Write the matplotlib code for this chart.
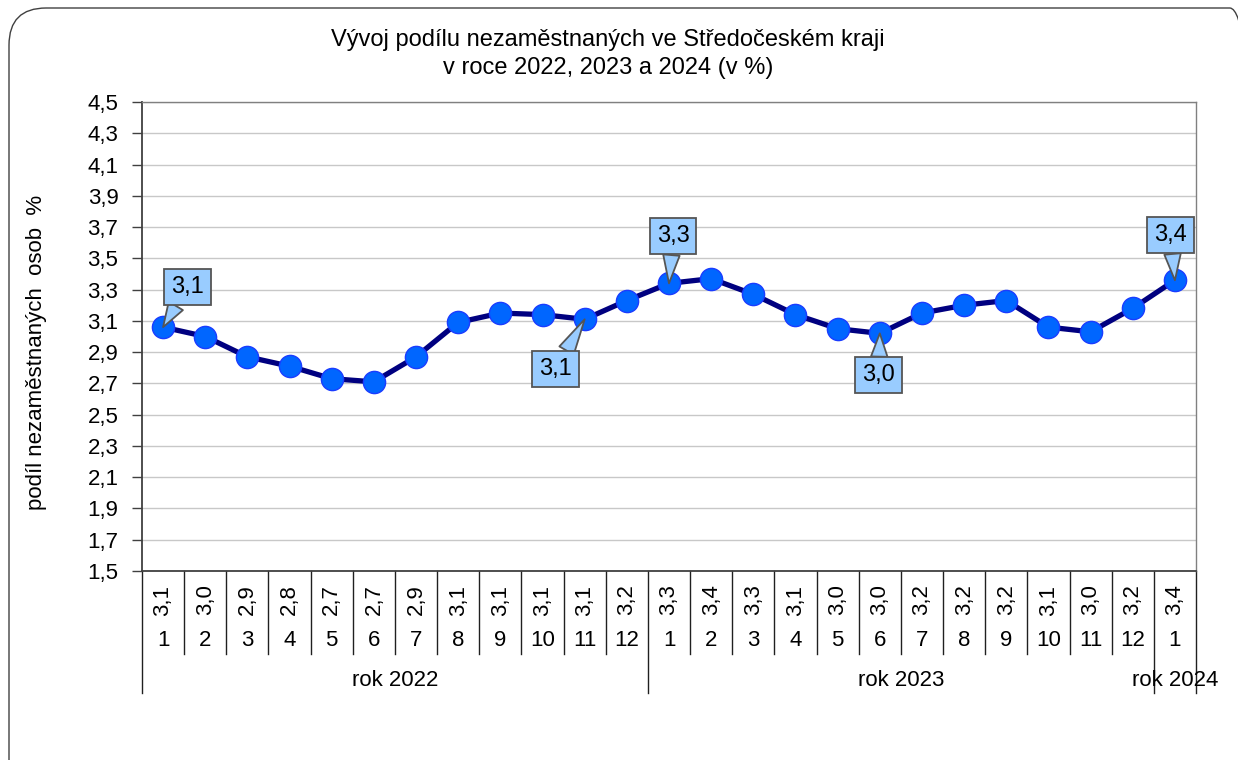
import matplotlib
matplotlib.use("Agg")
import matplotlib.pyplot as plt
from matplotlib.patches import FancyBboxPatch
from matplotlib.transforms import blended_transform_factory
from matplotlib.lines import Line2D

plt.rcParams['font.family'] = ['Liberation Sans', 'DejaVu Sans']

# ---- data ----
months = ["1", "2", "3", "4", "5", "6", "7", "8", "9", "10", "11", "12",
          "1", "2", "3", "4", "5", "6", "7", "8", "9", "10", "11", "12",
          "1"]
years = ["rok 2022", "rok 2023", "rok 2024"]
year_counts = [12, 12, 1]
values = [3.06, 3.00, 2.87, 2.81, 2.73, 2.71, 2.87, 3.09, 3.15, 3.14, 3.11, 3.23,
          3.34, 3.37, 3.27, 3.14, 3.05, 3.02, 3.15, 3.20, 3.23, 3.06, 3.03, 3.18,
          3.36]
table_labels = ["3,1", "3,0", "2,9", "2,8", "2,7", "2,7", "2,9", "3,1", "3,1", "3,1", "3,1", "3,2",
                "3,3", "3,4", "3,3", "3,1", "3,0", "3,0", "3,2", "3,2", "3,2", "3,1", "3,0", "3,2",
                "3,4"]
callout_idx = [0, 10, 12, 17, 24]
callout_text = ["3,1", "3,1", "3,3", "3,0", "3,4"]
callout_offset = [(24, 40), (-29, -50), (4, 47), (-1, -42), (-4, 45)]
yticks = [1.5, 1.7, 1.9, 2.1, 2.3, 2.5, 2.7, 2.9, 3.1, 3.3, 3.5, 3.7, 3.9, 4.1, 4.3, 4.5]

FS = 16
W, H = 1238, 760
fig = plt.figure(figsize=(W / 100, H / 100), dpi=100)

# rounded outer frame
frame = FancyBboxPatch((9 / W, -40 / H), (W + 20) / W, (H + 32) / H,
                       boxstyle="round,pad=0,rounding_size=0.03",
                       transform=fig.transFigure, fill=False,
                       ec="#404040", lw=1.0, mutation_aspect=W / H)
fig.patches.append(frame)

ax = fig.add_axes([142 / W, 1 - 571 / H, 1054 / W, 469 / H])
n = len(values)
x = list(range(n))
ax.set_xlim(-0.5, n - 0.5)
ax.set_ylim(1.5, 4.5)
ax.set_yticks(yticks)
ax.set_yticklabels([f"{v:.1f}".replace(".", ",") for v in yticks], fontsize=FS)
ax.tick_params(axis="y", length=7, width=1, color="#404040", pad=10)
ax.set_xticks([])
ax.grid(axis="y", color="#c8c8c8", lw=1)
ax.set_axisbelow(True)
for s in ["left", "bottom"]:
    ax.spines[s].set_color("#404040")
    ax.spines[s].set_linewidth(1.3)
for s in ["top", "right"]:
    ax.spines[s].set_color("#808080")
    ax.spines[s].set_linewidth(1.0)

ax.plot(x, values, color="#000080", lw=3.8, zorder=3,
        marker="o", markersize=16, markerfacecolor="#0066ff",
        markeredgecolor="#1a3cff", markeredgewidth=1.0)

for i, t, off in zip(callout_idx, callout_text, callout_offset):
    ax.annotate(t, xy=(x[i], values[i]), xytext=off, textcoords="offset pixels",
                ha="center", va="center", fontsize=17, zorder=5,
                bbox=dict(boxstyle="square,pad=0.3", fc="#99ccff", ec="#555555", lw=1.3),
                arrowprops=dict(arrowstyle="wedge,tail_width=0.7,shrink_factor=0.5",
                                fc="#99ccff", ec="#555555", lw=1.3,
                                shrinkA=0, shrinkB=0))

fig.text(37 / W, 1 - 352 / H, "podíl nezaměstnaných  osob  %", rotation=90,
         ha="center", va="center", fontsize=FS)

# ---- category table below axis ----
tr = blended_transform_factory(ax.transData, ax.transAxes)
ah = 469.0
y_row1 = -(600 - 571) / ah
y_row2 = -(641 - 571) / ah
y_row3 = -(681 - 571) / ah
y_small = -(654 - 571) / ah
y_big = -(693 - 571) / ah

for i in range(n):
    ax.text(x[i], y_row1, table_labels[i], rotation=90, ha="center", va="center",
            fontsize=FS, transform=tr, clip_on=False)
    ax.text(x[i], y_row2, months[i], ha="center", va="center",
            fontsize=FS, transform=tr, clip_on=False)

boundaries = [k - 0.5 for k in range(n + 1)]
big = {-0.5}
acc = 0
for c in year_counts:
    acc += c
    big.add(acc - 0.5)
for b in boundaries:
    ybot = y_big if b in big else y_small
    ax.add_line(Line2D([b, b], [0, ybot], transform=tr, color="#202020",
                       lw=1.0, clip_on=False))

start = 0
for name, c in zip(years, year_counts):
    center = start + (c - 1) / 2
    ax.text(center, y_row3, name, ha="center", va="center",
            fontsize=FS, transform=tr, clip_on=False)
    start += c

fig.text(608 / W, 1 - 40 / H, "Vývoj podílu nezaměstnaných ve Středočeském kraji",
         ha="center", va="center", fontsize=17)
fig.text(608 / W, 1 - 68 / H, "v roce 2022, 2023 a 2024 (v %)",
         ha="center", va="center", fontsize=17)

fig.savefig("out.png", dpi=100)
